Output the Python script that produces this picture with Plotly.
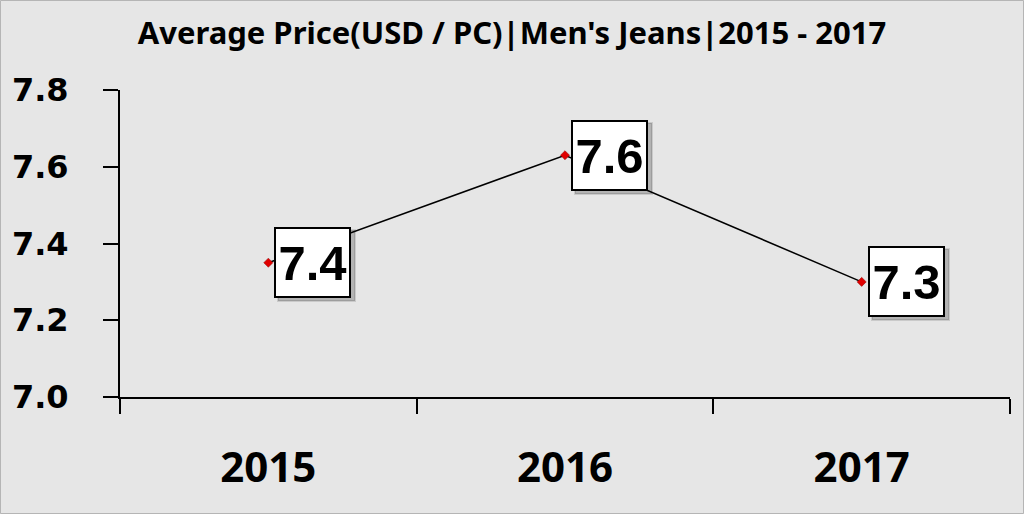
import plotly.graph_objects as go

years = ["2015", "2016", "2017"]
prices = [7.35, 7.63, 7.30]
labels = ["7.4", "7.6", "7.3"]
y_ticks = [7.0, 7.2, 7.4, 7.6, 7.8]
title_text = "Average Price(USD / PC)|Men's Jeans|2015 - 2017"

W, H = 1024, 514
ML, MR, MT, MB = 120, 14, 90, 117

fig = go.Figure()
fig.add_trace(go.Scatter(
    x=years, y=prices, mode="lines+markers",
    line=dict(color="black", width=1.5),
    marker=dict(symbol="diamond", color="#e00000", size=7,
                line=dict(color="#900000", width=0.5)),
    showlegend=False, hoverinfo="skip",
))

# soft shadows behind the label boxes
for i, val in enumerate(prices):
    fig.add_annotation(
        x=i, y=val, xref="x", yref="y", text=" ", showarrow=False,
        xanchor="left", yanchor="middle", xshift=9, yshift=-3,
        width=71, height=65, borderpad=2, borderwidth=2,
        bgcolor="rgba(0,0,0,0.22)", bordercolor="rgba(0,0,0,0.12)",
        font=dict(size=10),
    )

for i, (val, lab) in enumerate(zip(prices, labels)):
    fig.add_annotation(
        x=i, y=val, xref="x", yref="y", text=lab, showarrow=False,
        xanchor="left", yanchor="middle", xshift=6,
        width=69, height=63, align="center", valign="middle",
        font=dict(family="Liberation Sans, Arial", size=49, color="black", weight="bold"),
        bgcolor="white", bordercolor="black", borderwidth=2, borderpad=2,
    )

pw = W - ML - MR
ph = H - MT - MB
fig.add_shape(type="rect", xref="paper", yref="paper",
              x0=-ML / pw + 0.5 / pw, x1=1 + MR / pw - 0.5 / pw,
              y0=-MB / ph + 0.5 / ph, y1=1 + MT / ph - 0.5 / ph,
              line=dict(color="#b5b5b5", width=1), layer="below")

fig.update_layout(
    width=W, height=H,
    margin=dict(l=ML, r=MR, t=MT, b=MB),
    paper_bgcolor="#e6e6e6", plot_bgcolor="rgba(0,0,0,0)",
    title=dict(text=title_text, x=0.5, xanchor="center", xref="container",
               y=1 - 33 / H, yref="container", yanchor="middle",
               font=dict(family="Noto Sans", size=31, color="black", weight="bold")),
    xaxis=dict(type="category", range=[-0.5, 2.5], showgrid=False, zeroline=False,
               showline=True, linecolor="black", linewidth=2,
               ticks="outside", tickson="boundaries", ticklen=15, tickwidth=2, tickcolor="black",
               tickfont=dict(family="Noto Sans", size=42, color="black", weight="bold"),
               ticklabelstandoff=33),
    yaxis=dict(range=[7.0, 7.8], tickvals=y_ticks, tickformat=".1f", showgrid=False, zeroline=False,
               showline=True, linecolor="black", linewidth=2,
               ticks="outside", ticklen=15, tickwidth=2, tickcolor="black",
               tickfont=dict(family="DejaVu Sans", size=32, color="black", weight="bold"),
               ticklabelstandoff=28),
)

fig.write_html("out.html", config={"displayModeBar": False},
               post_script="document.body.style.margin='0';")
